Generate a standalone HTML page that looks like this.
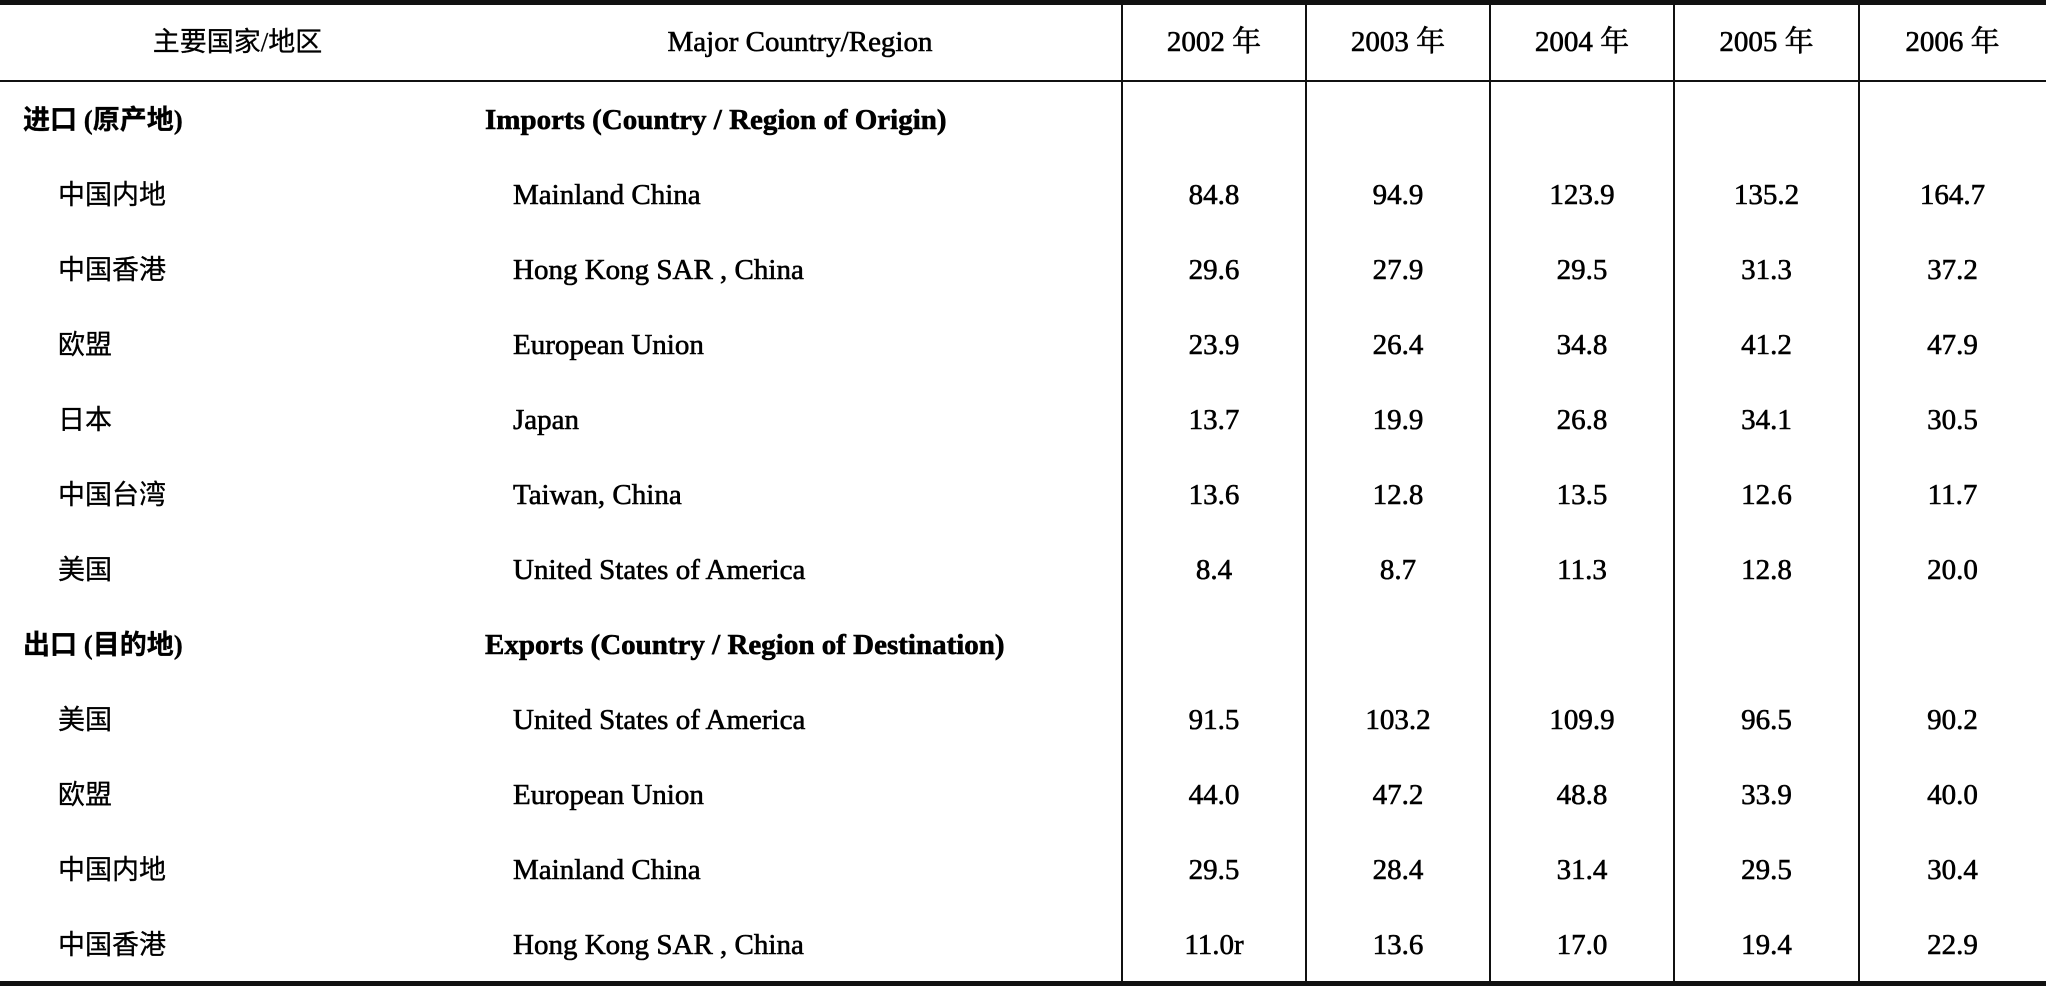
<!DOCTYPE html>
<html><head><meta charset="utf-8">
<style>
html,body{margin:0;padding:0;background:#fff;}
#wrap{position:relative;width:2046px;height:986px;overflow:hidden;background:#fff;font-family:"Liberation Serif","Noto Serif CJK SC",serif;color:#000;}
.t{position:absolute;white-space:nowrap;font-size:29px;line-height:36px;transform:translateY(-18px);-webkit-text-stroke:0.6px #000;}
.cn{font-family:"Liberation Serif","Noto Sans CJK SC",sans-serif;font-size:27px;-webkit-text-stroke:0.3px #000;}
.b{font-weight:bold;}
.c{text-align:center;}
.ln{position:absolute;background:#111;}
</style></head><body>
<div id="wrap"></div>
<script>
const years = ["2002 年","2003 年","2004 年","2005 年","2006 年"];
const cnNames = ["进口 (原产地)","中国内地","中国香港","欧盟","日本","中国台湾","美国","出口 (目的地)","美国","欧盟","中国内地","中国香港"];
const enNames = ["Imports (Country / Region of Origin)","Mainland China","Hong Kong SAR , China","European Union","Japan","Taiwan, China","United States of America","Exports (Country / Region of Destination)","United States of America","European Union","Mainland China","Hong Kong SAR , China"];
const isSection = [true,false,false,false,false,false,false,true,false,false,false,false];
const v2002 = [null,"84.8","29.6","23.9","13.7","13.6","8.4",null,"91.5","44.0","29.5","11.0r"];
const v2003 = [null,"94.9","27.9","26.4","19.9","12.8","8.7",null,"103.2","47.2","28.4","13.6"];
const v2004 = [null,"123.9","29.5","34.8","26.8","13.5","11.3",null,"109.9","48.8","31.4","17.0"];
const v2005 = [null,"135.2","31.3","41.2","34.1","12.6","12.8",null,"96.5","33.9","29.5","19.4"];
const v2006 = [null,"164.7","37.2","47.9","30.5","11.7","20.0",null,"90.2","40.0","30.4","22.9"];
const series = [v2002,v2003,v2004,v2005,v2006];

const W = document.getElementById('wrap');
const colX = [1122,1306,1490,1674,1859,2046];
const rowY = i => 120 + i*75;

function line(x,y,w,h,name){
  const d=document.createElement('div');d.className='ln';
  d.style.left=x+'px';d.style.top=y+'px';d.style.width=w+'px';d.style.height=h+'px';
  
  
  W.appendChild(d);
}
function text(s,cls,x,y,w,name){
  const d=document.createElement('div');d.className='t '+cls;d.textContent=s;
  d.style.left=x+'px';d.style.top=y+'px';if(w)d.style.width=w+'px';
  
  
  W.appendChild(d);
}
line(0,0,2046,5,'top-border');
line(0,80,2046,2,'header-rule');
line(0,981,2046,5,'bottom-border');
for(let k=0;k<5;k++) line(colX[k]-1,0,2,986,'column-divider');

text("主要国家/地区","cn c",100,42,275,'header-country-cn');
text("Major Country/Region","c",600,42,400,'header-country-en');
years.forEach((y,k)=>text(y,"c",colX[k],42,colX[k+1]-colX[k],'header-year'));

cnNames.forEach((n,i)=>{
  const sec=isSection[i];
  text(n,"cn"+(sec?" b":""),sec?23:58,rowY(i),0,sec?'section-title-cn':'country-cn');
  text(enNames[i],sec?"b":"",sec?485:513,rowY(i),0,sec?'section-title-en':'country-en');
  series.forEach((s,k)=>{
    if(s[i]!==null) text(s[i],"c",colX[k],rowY(i),colX[k+1]-colX[k],'value-cell');
  });
});
</script>
</body></html>
